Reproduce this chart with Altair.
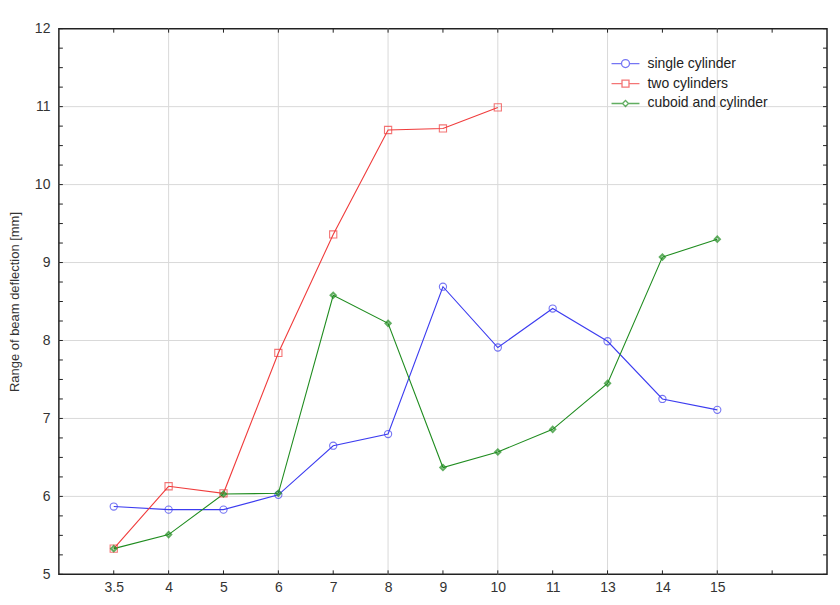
import altair as alt
import pandas as pd

categories = ["3.5", "4", "5", "6", "7", "8", "9", "10", "11", "13", "14", "15"]
single_cylinder = [5.87, 5.83, 5.83, 6.02, 6.65, 6.80, 8.69, 7.91, 8.41, 7.99, 7.25, 7.11]
two_cylinders = [5.33, 6.13, 6.04, 7.84, 9.36, 10.70, 10.72, 10.99]
cuboid_and_cylinder = [5.33, 5.51, 6.03, 6.04, 8.58, 8.22, 6.37, 6.57, 6.86, 7.45, 9.07, 9.30]
series_names = ["single cylinder", "two cylinders", "cuboid and cylinder"]
series_colors = ["#3c3cf0", "#f03c3c", "#1f8c1f"]
y_ticks = [5, 6, 7, 8, 9, 10, 11, 12]
y_minor = [5 + 0.25 * k for k in range(29)]
x_positions = list(range(1, 14))
x_grid = [2, 4, 6, 8, 10, 12]
y_grid = [6, 7, 8, 9, 10, 11]

rows = []
for name, vals in zip(series_names, [single_cylinder, two_cylinders, cuboid_and_cylinder]):
    for i, v in enumerate(vals):
        rows.append({"series": name, "idx": i + 1, "label": categories[i], "value": v})
df = pd.DataFrame(rows)

W, H = 770, 547
FONT = "Liberation Sans"

xscale = alt.Scale(domain=[0, 14], nice=False, zero=False)
yscale = alt.Scale(domain=[5, 12], nice=False, zero=False)

label_arr = "[''," + ",".join("'" + c + "'" for c in categories) + ",'']"

x_enc = alt.X(
    "idx:Q", scale=xscale,
    axis=alt.Axis(values=list(range(1, 13)), labelExpr=label_arr + "[datum.value]",
                  title=None, grid=False, ticks=False, domain=False,
                  labelFontSize=14, labelFont=FONT, labelColor="#333", labelPadding=6),
)
y_enc = alt.Y(
    "value:Q", scale=yscale,
    axis=alt.Axis(values=y_ticks, format="d", title="Range of beam deflection [mm]",
                  grid=False, ticks=False, domain=False,
                  labelFontSize=14, labelFont=FONT, labelColor="#333", labelPadding=9,
                  titleFont=FONT, titleFontSize=13, titleFontWeight="normal",
                  titleColor="#333", titlePadding=13),
)

color_scale = alt.Scale(domain=series_names, range=series_colors)

# gridlines
vgrid = alt.Chart(pd.DataFrame({"g": x_grid})).mark_rule(color="#d9d9d9", strokeWidth=1).encode(
    x=alt.X("g:Q", scale=xscale)
)
hgrid = alt.Chart(pd.DataFrame({"g": y_grid})).mark_rule(color="#d9d9d9", strokeWidth=1).encode(
    y=alt.Y("g:Q", scale=yscale)
)

lines = alt.Chart(df).mark_line(strokeWidth=1.1).encode(
    x=x_enc, y=y_enc,
    color=alt.Color("series:N", scale=color_scale, legend=None),
    detail="series:N",
)

points_open = alt.Chart(df).transform_filter(
    alt.datum.series != series_names[2]
).mark_point(filled=False, strokeWidth=1.1, size=52).encode(
    x=alt.X("idx:Q", scale=xscale),
    y=alt.Y("value:Q", scale=yscale),
    color=alt.Color("series:N", scale=color_scale, legend=None),
    shape=alt.Shape("series:N", scale=alt.Scale(domain=series_names, range=["circle", "square", "diamond"]), legend=None),
)

points_diamond = alt.Chart(df).transform_filter(
    alt.datum.series == series_names[2]
).mark_point(filled=False, shape="diamond", strokeWidth=2, size=28, color=series_colors[2]).encode(
    x=alt.X("idx:Q", scale=xscale),
    y=alt.Y("value:Q", scale=yscale),
)

legend_paths = [
    "M-2,0H-0.57M0.57,0H2M-0.57,0A0.57,0.57,0,1,1,0.57,0A0.57,0.57,0,1,1,-0.57,0",
    "M-2,0H-0.5M0.5,0H2M-0.5,-0.5H0.5V0.5H-0.5Z",
    "M-2,0H-0.43M0.43,0H2M-0.43,0L0,-0.43L0.43,0L0,0.43Z",
]

leg = dict(title=None, orient="none", legendX=560, legendY=27,
           symbolSize=196, labelOffset=14, rowPadding=5, padding=0,
           labelFont=FONT, labelFontSize=14, labelColor="#222",
           symbolStrokeWidth=1.3)

legend_layer = alt.Chart(df).mark_point(filled=False, strokeWidth=1.3).encode(
    x=alt.X("idx:Q", scale=xscale),
    y=alt.Y("value:Q", scale=yscale),
    color=alt.Color("series:N", scale=alt.Scale(domain=series_names, range=series_colors),
                    legend=alt.Legend(**leg)),
    shape=alt.Shape("series:N", scale=alt.Scale(domain=series_names, range=legend_paths),
                    legend=alt.Legend(**leg)),
).transform_filter("false")

# inward ticks
xt = pd.DataFrame({"t": x_positions})
bottom_ticks = alt.Chart(xt).mark_rule(color="#222", strokeWidth=1).encode(
    x=alt.X("t:Q", scale=xscale), y=alt.value(H), y2=alt.value(H - 4)
)
top_ticks = alt.Chart(xt).mark_rule(color="#222", strokeWidth=1).encode(
    x=alt.X("t:Q", scale=xscale), y=alt.value(0), y2=alt.value(4)
)
yt = pd.DataFrame({"t": y_minor})
left_ticks = alt.Chart(yt).mark_rule(color="#222", strokeWidth=1).encode(
    y=alt.Y("t:Q", scale=yscale), x=alt.value(0), x2=alt.value(4)
)
right_ticks = alt.Chart(yt).mark_rule(color="#222", strokeWidth=1).encode(
    y=alt.Y("t:Q", scale=yscale), x=alt.value(W), x2=alt.value(W - 4)
)

chart = alt.layer(
    vgrid, hgrid, lines, points_open, points_diamond, legend_layer,
    bottom_ticks, top_ticks, left_ticks, right_ticks
).resolve_scale(
    color="independent", shape="independent"
).properties(
    width=W, height=H,
    autosize=alt.AutoSizeParams(type="none"),
    padding={"left": 51, "top": 20, "right": 5, "bottom": 30},
    background="white",
).configure_view(
    stroke="#222", strokeWidth=1.5
)

chart.save("out.html", embed_options={"renderer": "svg", "actions": False})
